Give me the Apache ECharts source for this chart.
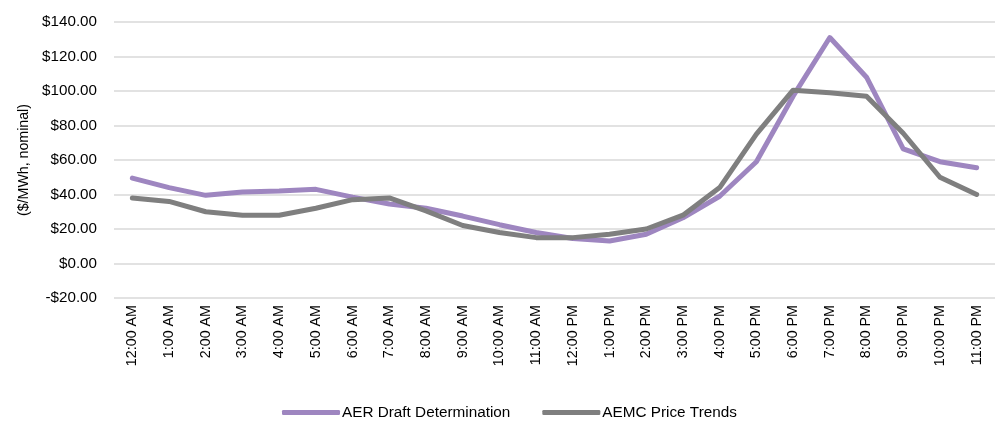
<!DOCTYPE html>
<html>
<head>
<meta charset="utf-8">
<script src="https://cdn.jsdelivr.net/npm/echarts@6/dist/echarts.min.js"></script>
<style>
  html, body { margin: 0; padding: 0; background: #fff; }
  #chart { width: 995px; height: 421px; }
</style>
</head>
<body>
<div id="chart"></div>
<script>
// Hourly price profile, $/MWh nominal
const hours = ['12:00 AM','1:00 AM','2:00 AM','3:00 AM','4:00 AM','5:00 AM','6:00 AM','7:00 AM',
  '8:00 AM','9:00 AM','10:00 AM','11:00 AM','12:00 PM','1:00 PM','2:00 PM','3:00 PM',
  '4:00 PM','5:00 PM','6:00 PM','7:00 PM','8:00 PM','9:00 PM','10:00 PM','11:00 PM'];

const aerDraft = [49.5, 44, 39.5, 41.5, 42, 43, 38.5, 34.5, 32, 27.5, 22.5, 18,
  14.5, 13, 17, 26.5, 39, 59, 97, 131, 108, 66.5, 59, 55.5];

const aemcTrends = [38, 36, 30, 28, 28, 32, 37, 38, 30.5, 22, 18, 15,
  15, 17, 20, 28, 44, 75, 100.5, 99, 97, 75.5, 50, 40];

const yMin = -20, yMax = 140, yStep = 20;

const FONT = '"Liberation Sans", Arial, sans-serif';

const chart = echarts.init(document.getElementById('chart'), null, { renderer: 'canvas' });

function money(v) {
  return (v < 0 ? '-$' : '$') + Math.abs(v).toFixed(2);
}

chart.setOption({
  animation: false,
  textStyle: { fontFamily: FONT },
  grid: { left: 114, right: 0, top: 22, bottom: 123, containLabel: false },
  legend: {
    left: 277,
    top: 400,
    itemWidth: 58,
    itemHeight: 5,
    itemGap: 32,
    icon: 'roundRect',
    textStyle: { fontFamily: FONT, fontSize: 15.3, color: '#000', padding: [0, 0, 0, -3] },
    data: ['AER Draft Determination', 'AEMC Price Trends']
  },
  xAxis: {
    type: 'category',
    data: hours,
    boundaryGap: true,
    axisLine: { show: false },
    axisTick: { show: false },
    axisLabel: {
      rotate: 90,
      margin: 7,
      interval: 0,
      fontFamily: FONT,
      fontSize: 14.3,
      color: '#000'
    }
  },
  yAxis: {
    type: 'value',
    min: yMin,
    max: yMax,
    interval: yStep,
    name: '($/MWh, nominal)',
    nameLocation: 'middle',
    nameGap: 80,
    nameRotate: 90,
    nameTextStyle: { fontFamily: FONT, fontSize: 14.2, color: '#000' },
    axisLine: { show: false },
    axisTick: { show: false },
    axisLabel: {
      formatter: money,
      margin: 17,
      fontFamily: FONT,
      fontSize: 15.2,
      color: '#000'
    },
    splitLine: { lineStyle: { color: '#D9D9D9', width: 1.5 } }
  },
  series: [
    {
      name: 'AER Draft Determination',
      type: 'line',
      data: aerDraft,
      symbol: 'none',
      smooth: false,
      color: '#9E86C0',
      lineStyle: { width: 5, color: '#9E86C0', cap: 'round', join: 'round' }
    },
    {
      name: 'AEMC Price Trends',
      type: 'line',
      data: aemcTrends,
      symbol: 'none',
      smooth: false,
      color: '#7F7F7F',
      lineStyle: { width: 5, color: '#7F7F7F', cap: 'round', join: 'round' }
    }
  ]
});
</script>
</body>
</html>
